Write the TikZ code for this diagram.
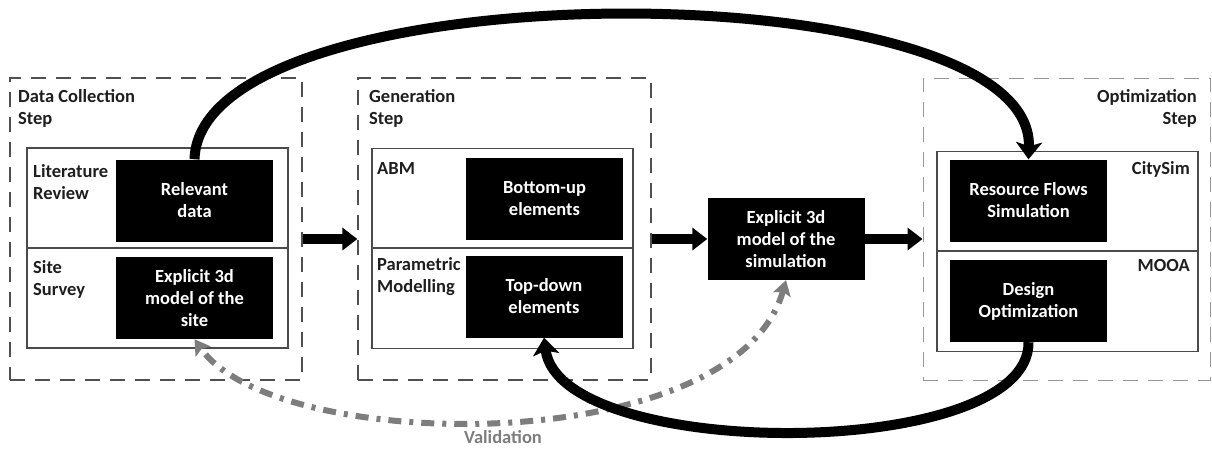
\documentclass[tikz,border=0pt]{standalone}
\usepackage{fontspec}
\setmainfont{Carlito}
\usetikzlibrary{arrows.meta}
\definecolor{valg}{RGB}{125,125,125}
\definecolor{dashc}{RGB}{80,80,80}
\definecolor{dashl}{RGB}{150,150,150}
\definecolor{txtc}{RGB}{30,30,30}
\newcommand\myfont{\bfseries\fontsize{18.5}{22}\selectfont}
\begin{document}
\begin{tikzpicture}[x=1pt,y=-1pt,
  blk/.style={fill=black,draw=none,text=white,font=\myfont,align=center,
    minimum width=157pt,minimum height=82pt,inner sep=0pt},
  dbox/.style={draw=dashc,dash pattern=on 15pt off 10pt,line width=1.3pt,
    inner sep=0pt,minimum height=302pt},
  ibox/.style={draw=txtc!80,line width=1.3pt,inner sep=0pt,minimum width=261pt,minimum height=200pt},
  lbl/.style={font=\myfont,text=txtc,inner sep=0pt},
  hbar/.style={line width=10pt,-{Triangle[length=15pt,width=22pt]}},
  bigcurve/.style={line width=10pt,-{Stealth[length=17pt,width=26pt,inset=4pt]}},
  valid/.style={draw=valg,line width=6pt,dash pattern=on 13pt off 8pt on 4pt off 8pt,
    {Stealth[length=15pt,width=18pt,inset=3pt]}-{Stealth[length=15pt,width=18pt,inset=3pt]}}
]
\useasboundingbox (0,0) rectangle (1212,448);

% dashed step boxes
\node[dbox,minimum width=292pt] (dc) at (156,229) {};
\node[dbox,minimum width=293pt] (gen) at (504.5,229) {};
\node[dbox,draw=dashl,line width=1pt,minimum width=287pt] (opt) at (1066.5,229) {};

% inner boxes
\node[ibox] (in1) at (157.5,248) {};
\node[ibox] (in2) at (502.5,248.5) {};
\node[ibox] (in3) at (1067.5,251.5) {};
\draw[draw=txtc!80,line width=1.3pt] (in1.west |- 0,248) -- (in1.east |- 0,248);
\draw[draw=txtc!80,line width=1.3pt] (in2.west |- 0,248) -- (in2.east |- 0,248);
\draw[draw=txtc!80,line width=1.3pt] (in3.west |- 0,251) -- (in3.east |- 0,251);

% step labels
\node[lbl,anchor=north west,align=left] (l1) at (18,89) {Data Collection\\Step};
\node[lbl,anchor=north west,align=left] (l2) at (369,89) {Generation\\Step};
\node[lbl,anchor=north east,align=right] (l3) at (1197,89) {Optimization\\Step};

\node[lbl,anchor=north west,align=left] (l4) at (33,164) {Literature\\Review};
\node[lbl,anchor=north west,align=left] (l5) at (33,260) {Site\\Survey};
\node[lbl,anchor=north west,align=left] (l6) at (377,162) {ABM};
\node[lbl,anchor=north west,align=left] (l7) at (377,257) {Parametric\\Modelling};
\node[lbl,anchor=north east,align=right] (l8) at (1190,161) {CitySim};
\node[lbl,anchor=north east,align=right] (l9) at (1190,259) {MOOA};

% black boxes
\node[blk] (rel) at (194.5,200.5) {Relevant\\data};
\node[blk] (site) at (194.5,298) {Explicit 3d\\model of the\\site};
\node[blk] (bu) at (544.5,198.5) {Bottom-up\\elements};
\node[blk] (td) at (544,296.5) {Top-down\\elements};
\node[blk] (sim) at (786,239) {Explicit 3d\\model of the\\simulation};
\node[blk] (rfs) at (1028.5,200.5) {Resource Flows\\Simulation};
\node[blk] (des) at (1028.5,301) {Design\\Optimization};

% horizontal arrows
\draw[hbar] (dc.east |- sim.west) -- (gen.west |- sim.west);
\draw[hbar] (gen.east |- sim.west) -- (sim.west);
\draw[hbar] (sim.east) -- (opt.west |- sim.east);

% curves
\draw[valid] (sim.south) .. controls (735,460) and (275,455) .. (site.south);
\draw[bigcurve] (rel.north) .. controls (200,-33) and (1035,-33) .. (rfs.north);
\draw[bigcurve] (des.south) .. controls (1030,462) and (560,462) .. (td.south);

\node[lbl,text=valg] (val) at (503,437) {Validation};
\end{tikzpicture}
\end{document}
